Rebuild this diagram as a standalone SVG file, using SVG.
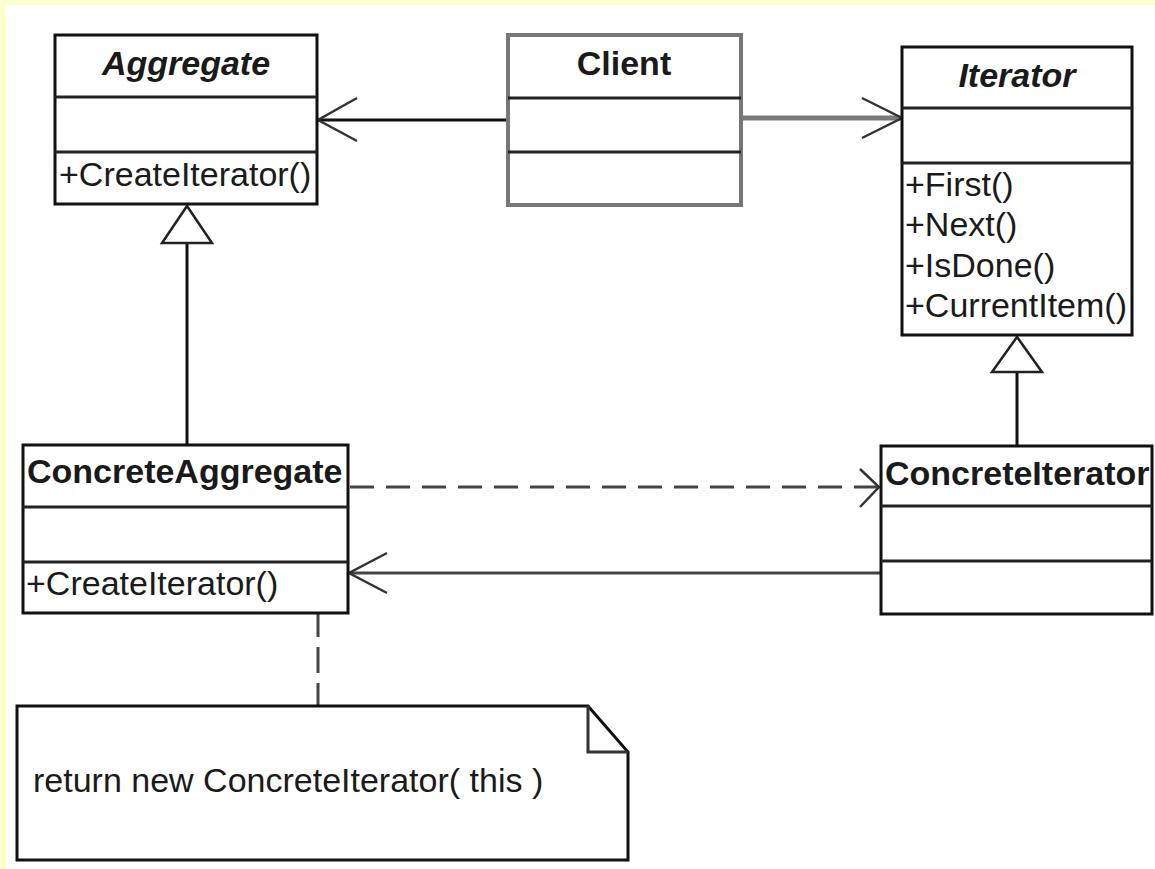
<svg xmlns="http://www.w3.org/2000/svg" width="1155" height="869" viewBox="0 0 1155 869">
<style>
.box{fill:#fff;stroke:#111;stroke-width:3}
.gbox{fill:#fff;stroke:#777;stroke-width:4}
.div{stroke:#222;stroke-width:3}
.t{font-family:"Liberation Sans",Arial,sans-serif;font-size:34px;fill:#1a1a1a}
.b{font-weight:bold}
.i{font-style:italic}
.m{text-anchor:middle}
.ln{fill:none;stroke:#111;stroke-width:3}
.ah{fill:none;stroke:#333;stroke-width:2.5}
.tri{fill:#fff;stroke:#222;stroke-width:2.5}
</style>
<rect x="0" y="0" width="1155" height="869" fill="#fff"/>
<rect x="0" y="0" width="1155" height="5" fill="#ffffcc"/>
<rect x="0" y="0" width="6" height="869" fill="#ffffcc"/>

<g id="connectors">
  <line class="ln" x1="508" y1="120" x2="318" y2="120"/>
  <polyline class="ah" points="357,98 318,120 357,141"/>
  <line x1="741" y1="118" x2="900" y2="118" stroke="#7a7a7a" stroke-width="5"/>
  <polyline class="ah" points="862,98 902,118 862,138"/>
  <line class="ln" x1="187" y1="243" x2="187" y2="445"/>
  <polygon class="tri" points="187,206 162,243 212,243"/>
  <line class="ln" x1="1017" y1="372" x2="1017" y2="446"/>
  <polygon class="tri" points="1017,337 992,372 1042,372"/>
  <line x1="350" y1="487" x2="878" y2="487" stroke="#444" stroke-width="3" stroke-dasharray="24 12"/>
  <polyline class="ah" points="860,469 879,487 860,507"/>
  <line x1="881" y1="573" x2="350" y2="573" stroke="#444" stroke-width="3"/>
  <polyline class="ah" points="387,553 349,573 387,593"/>
  <line x1="318" y1="582" x2="318" y2="706" stroke="#444" stroke-width="3" stroke-dasharray="26 10" stroke-dashoffset="7"/>
</g>

<g id="aggregate">
  <rect class="box" x="55" y="35" width="262" height="169"/>
  <line class="div" x1="55" y1="97" x2="317" y2="97"/>
  <line class="div" x1="55" y1="152" x2="317" y2="152"/>
  <text class="t b i m" x="186" y="75">Aggregate</text>
  <text class="t" x="59" y="186">+CreateIterator()</text>
</g>

<g id="client">
  <rect class="gbox" x="508" y="35" width="233" height="170"/>
  <line class="div" x1="508" y1="98" x2="741" y2="98"/>
  <line class="div" x1="508" y1="152" x2="741" y2="152"/>
  <text class="t b m" x="624" y="75">Client</text>
</g>

<g id="iterator">
  <rect class="box" x="902" y="47" width="230" height="288"/>
  <line class="div" x1="902" y1="108" x2="1132" y2="108"/>
  <line class="div" x1="902" y1="163" x2="1132" y2="163"/>
  <text class="t b i m" x="1017" y="87">Iterator</text>
  <text class="t" x="905" y="196">+First()</text>
  <text class="t" x="905" y="236">+Next()</text>
  <text class="t" x="905" y="277">+IsDone()</text>
  <text class="t" x="905" y="317">+CurrentItem()</text>
</g>

<g id="concreteAggregate">
  <rect class="box" x="23" y="445" width="325" height="168"/>
  <line class="div" x1="23" y1="507" x2="348" y2="507"/>
  <line class="div" x1="23" y1="562" x2="348" y2="562"/>
  <text class="t b" x="27" y="483">ConcreteAggregate</text>
  <text class="t" x="26" y="595">+CreateIterator()</text>
</g>

<g id="concreteIterator">
  <rect class="box" x="881" y="446" width="271" height="168"/>
  <line class="div" x1="881" y1="506" x2="1152" y2="506"/>
  <line class="div" x1="881" y1="561" x2="1152" y2="561"/>
  <text class="t b" x="885" y="485">ConcreteIterator</text>
</g>

<g id="note">
  <path d="M17,706 H588 L628,752 V860 H17 Z" fill="#fff" stroke="#111" stroke-width="3"/>
  <path d="M588,706 V752 H628" fill="none" stroke="#333" stroke-width="3"/>
  <text class="t" x="33" y="792">return new ConcreteIterator( this )</text>
</g>
</svg>
